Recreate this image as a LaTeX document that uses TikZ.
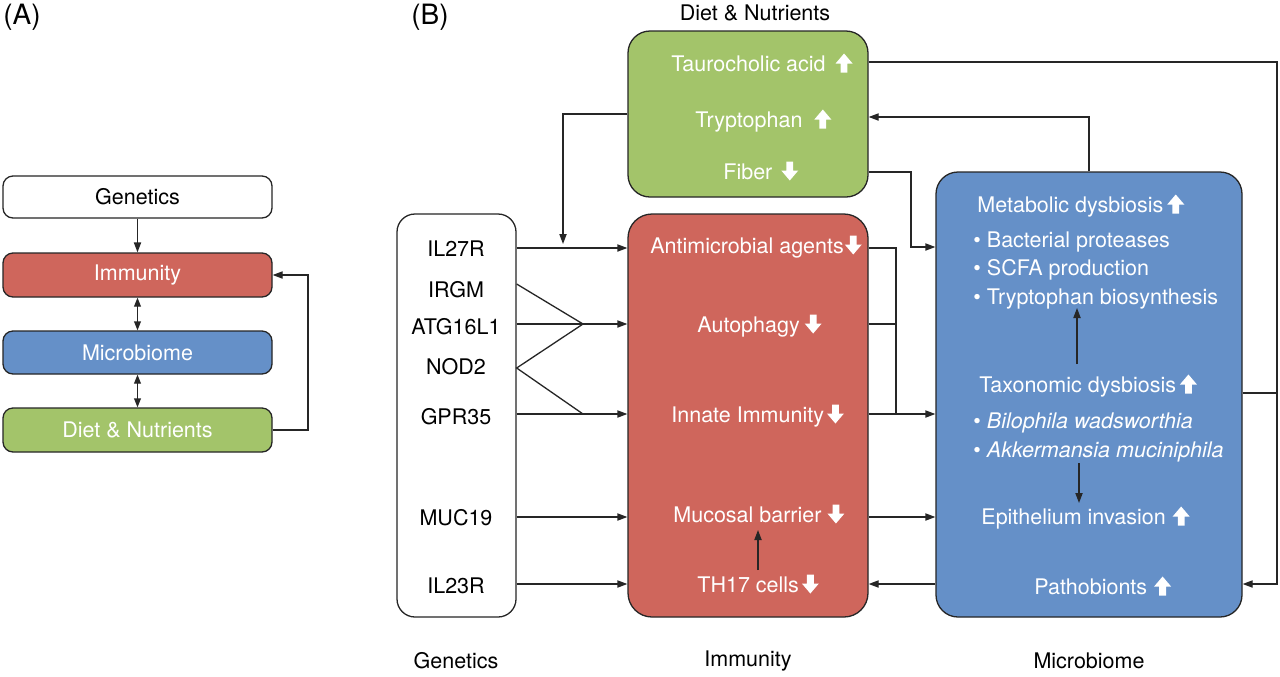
\documentclass[tikz,border=0pt]{standalone}
\usepackage{fontspec}
\setmainfont{TeX Gyre Heros}
\usetikzlibrary{arrows.meta,calc,fit}
\definecolor{immred}{HTML}{CF665C}
\definecolor{micblue}{HTML}{6590C8}
\definecolor{dietgreen}{HTML}{A3C46A}
\definecolor{edgec}{HTML}{262626}
\begin{document}
\begin{tikzpicture}[x=0.5pt,y=-0.5pt,
  every node/.style={font=\fontsize{10.75}{13}\selectfont},
  boxs/.style={draw=edgec,line width=0.65pt,inner sep=0pt,rounded corners=#1},
  wt/.style={text=white,inner sep=0pt,anchor=base west},
  bt/.style={text=black,inner sep=0pt},
  panlab/.style={text=black,inner sep=0pt,font=\fontsize{14}{16}\selectfont},
  conn/.style={draw=edgec,line width=0.65pt,-{Triangle[length=5pt,width=3.6pt]}},
  dconn/.style={draw=edgec,line width=0.65pt,{Triangle[length=4.5pt,width=3.4pt]}-{Triangle[length=4.5pt,width=3.4pt]}},
  ln/.style={draw=edgec,line width=0.65pt},
  uparr/.pic={\fill[white] (-3.4,9.5) -- (-3.4,0.5) -- (-8.5,0.5) -- (0,-9.5) -- (8.5,0.5) -- (3.4,0.5) -- (3.4,9.5) -- cycle;},
  dnarr/.pic={\fill[white] (-3.4,-9.5) -- (-3.4,-0.5) -- (-8.5,-0.5) -- (0,9.5) -- (8.5,-0.5) -- (3.4,-0.5) -- (3.4,-9.5) -- cycle;}
]
\useasboundingbox[fill=white] (0,0) rectangle (1280,676);

% ---------------- Panel A ----------------
\node[panlab] (labA) at (22,17) {(A)};
\node[boxs=5pt,fill=white,fit={(3,176) (272,218)}] (aG) {};
\node[bt] at (aG.center) {Genetics};
\node[boxs=5pt,fill=immred,fit={(3,253) (272,297)}] (aI) {};
\node[text=white] at (aI.center) {Immunity};
\node[boxs=5pt,fill=micblue,fit={(3,331) (272,374)}] (aM) {};
\node[text=white] at (aM.center) {Microbiome};
\node[boxs=5pt,fill=dietgreen,fit={(3,408) (272,452)}] (aD) {};
\node[text=white] at (aD.center) {Diet \& Nutrients};
\draw[conn] (aG.south) -- (aI.north);
\draw[dconn] (aI.south) -- (aM.north);
\draw[dconn] (aM.south) -- (aD.north);
\coordinate (aR) at (308,430);
\draw[conn] (aD.east) -- (aR) |- (aI.east);

% ---------------- Panel B ----------------
\node[panlab] (labB) at (430,17) {(B)};
\node[bt] (tD) at (755,13) {Diet \& Nutrients};
\node[bt] (tG) at (456,661) {Genetics};
\node[bt] (tI) at (748,661) {Immunity};
\node[bt] (tM) at (1089,661) {Microbiome};

\node[boxs=9pt,fill=white,fit={(397,214) (516,617)}] (genB) {};
\node[boxs=11pt,fill=dietgreen,fit={(628,31) (868,197)}] (greenB) {};
\node[boxs=12pt,fill=immred,fit={(628,214) (868,617)}] (redB) {};
\node[boxs=11pt,fill=micblue,fit={(936,172) (1242,617)}] (blueB) {};

% genetics labels
\node[bt] (g1) at (456,249) {IL27R};
\node[bt] (g2) at (456,290) {IRGM};
\node[bt] (g3) at (456,327) {ATG16L1};
\node[bt] (g4) at (456,367) {NOD2};
\node[bt] (g5) at (456,417) {GPR35};
\node[bt] (g6) at (456,518) {MUC19};
\node[bt] (g7) at (456,586) {IL23R};

% diet labels
\node[wt] (d1) at (671,71) {Taurocholic acid};
\pic at ($(d1.base east)+(18,-8)$) {uparr};
\node[wt] (d2) at (695,127) {Tryptophan};
\pic at ($(d2.base east)+(20,-8)$) {uparr};
\node[wt] (d3) at (723,179) {Fiber};
\pic at ($(d3.base east)+(17,-8)$) {dnarr};

% immunity labels
\node[wt] (i1) at (650,253) {Antimicrobial agents};
\pic at ($(i1.base east)+(9,-8)$) {dnarr};
\node[wt] (i2) at (697,332) {Autophagy};
\pic at ($(i2.base east)+(13,-8)$) {dnarr};
\node[wt] (i3) at (671,422) {Innate Immunity};
\pic at ($(i3.base east)+(11,-8)$) {dnarr};
\node[wt] (i4) at (673,522) {Mucosal barrier};
\pic at ($(i4.base east)+(14,-8)$) {dnarr};
\node[wt] (i5) at (697,592) {TH17 cells};
\pic at ($(i5.base east)+(11,-8)$) {dnarr};

% microbiome labels
\node[wt] (m1) at (977,212) {Metabolic dysbiosis};
\pic at ($(m1.base east)+(12,-8)$) {uparr};
\node[wt] (m2) at (973,247) {\textbullet\ Bacterial proteases};
\node[wt] (m3) at (973,275) {\textbullet\ SCFA production};
\node[wt] (m4) at (973,304) {\textbullet\ Tryptophan biosynthesis};
\node[wt] (m5) at (979,392) {Taxonomic dysbiosis};
\pic at ($(m5.base east)+(12,-8)$) {uparr};
\node[wt] (m6) at (973,428) {\textbullet\ \textit{Bilophila wadsworthia}};
\node[wt] (m7) at (973,457) {\textbullet\ \textit{Akkermansia muciniphila}};
\node[wt] (m8) at (981,524) {Epithelium invasion};
\pic at ($(m8.base east)+(15,-8)$) {uparr};
\node[wt] (m9) at (1034,594) {Pathobionts};
\pic at ($(m9.base east)+(15,-8)$) {uparr};

% row coordinates
\coordinate (r1) at (0,248);
\coordinate (rA) at (0,284);
\coordinate (r2) at (0,324);
\coordinate (rB) at (0,368);
\coordinate (r3) at (0,414);
\coordinate (r4) at (0,517);
\coordinate (r5) at (0,584);

% genetics -> immunity
\draw[conn] (genB.east |- r1) -- (redB.west |- r1);
\draw[conn] (genB.east |- r2) -- (redB.west |- r2);
\draw[conn] (genB.east |- r3) -- (redB.west |- r3);
\draw[conn] (genB.east |- r4) -- (redB.west |- r4);
\draw[conn] (genB.east |- r5) -- (redB.west |- r5);
\coordinate (z1) at (583,324);
\coordinate (z2) at (583,414);
\draw[ln] (genB.east |- rA) -- (z1) -- (genB.east |- rB) -- (z2);

% diet -> IL27R line
\coordinate (gL) at (0,114);
\coordinate (jn) at (563,244);
\draw[conn] (greenB.west |- gL) -| (jn);

% immunity -> microbiome
\coordinate (bj) at (896,414);
\draw[ln] (redB.east |- r1) -| (bj);
\draw[ln] (redB.east |- r2) -- (bj |- r2);
\draw[conn] (redB.east |- r3) -- (blueB.west |- r3);
\draw[conn] (redB.east |- r4) -- (blueB.west |- r4);
\draw[conn] (blueB.west |- r5) -- (redB.east |- r5);

% fiber -> microbiome
\coordinate (fb) at (0,172);
\coordinate (fj) at (911,247);
\draw[conn] (greenB.east |- fb) -| (fj) -- (blueB.west |- fj);

% microbiome -> tryptophan
\coordinate (tr) at (0,117);
\draw[conn] (blueB.north) |- (greenB.east |- tr);

% taurocholic -> pathobionts
\coordinate (tc) at (0,62);
\coordinate (rj) at (1277,584);
\coordinate (rm) at (0,393);
\draw[conn] (greenB.east |- tc) -| (rj) -- (blueB.east |- rj);
\draw[ln] (blueB.east |- rm) -- (rj |- rm);

% internal arrows
\coordinate (ia1) at (758,570);
\coordinate (ia2) at (758,530);
\draw[conn] (ia1) -- (ia2);
\coordinate (ib1) at (1077,364);
\coordinate (ib2) at (1077,308);
\draw[conn] (ib1) -- (ib2);
\coordinate (ic1) at (1079,463);
\coordinate (ic2) at (1079,503);
\draw[conn] (ic1) -- (ic2);
\end{tikzpicture}
\end{document}
